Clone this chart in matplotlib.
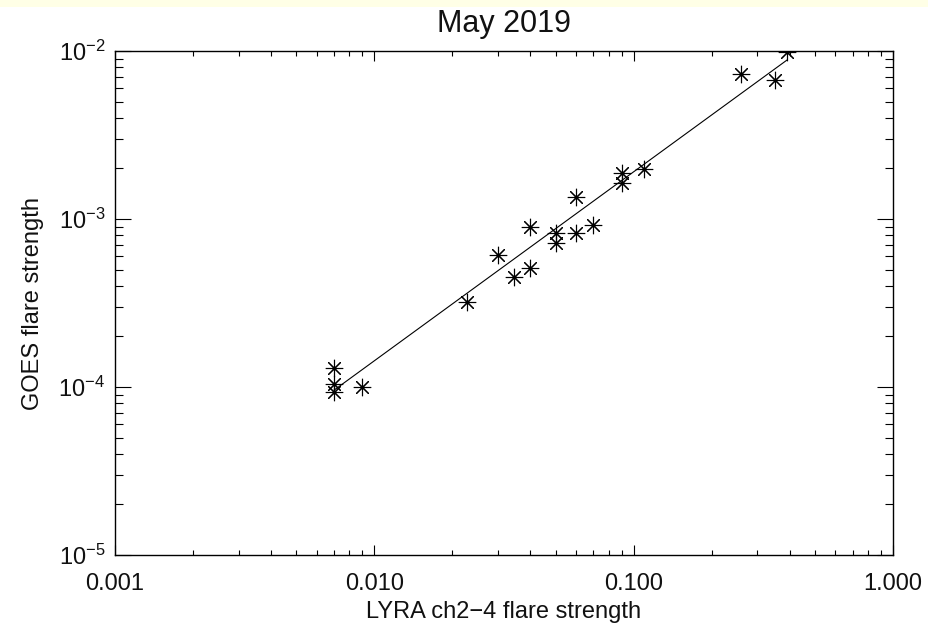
import numpy as np
import matplotlib
matplotlib.use("Agg")
import matplotlib.pyplot as plt
from matplotlib.patches import Rectangle

# ---- data ----
lyra = [0.007, 0.007, 0.007, 0.009, 0.0227, 0.030, 0.0347, 0.040, 0.040,
        0.050, 0.050, 0.060, 0.060, 0.070, 0.090, 0.090, 0.110, 0.26, 0.35, 0.39]
goes = [1.3e-4, 1.04e-4, 9.3e-5, 1.0e-4, 3.2e-4, 6.1e-4, 4.5e-4, 5.1e-4, 9.0e-4,
        8.2e-4, 7.2e-4, 8.2e-4, 1.35e-3, 9.2e-4, 1.87e-3, 1.64e-3, 1.98e-3,
        7.3e-3, 6.7e-3, 9.8e-3]
fit_slope = 1.125        # log10(goes) = fit_icpt + fit_slope*log10(lyra)
fit_icpt = -1.594
xticks = [0.001, 0.01, 0.1, 1.0]
xticklabels = ["0.001", "0.010", "0.100", "1.000"]
yticks = [1e-5, 1e-4, 1e-3, 1e-2]
yticklabels = [r"$10^{-5}$", r"$10^{-4}$", r"$10^{-3}$", r"$10^{-2}$"]
title = "May 2019"
xlabel = "LYRA ch2\u22124 flare strength"
ylabel = "GOES flare strength"

plt.rcParams['font.family'] = ['Liberation Sans', 'DejaVu Sans']
plt.rcParams['mathtext.fontset'] = 'custom'
plt.rcParams['mathtext.rm'] = 'Liberation Sans'
plt.rcParams['mathtext.default'] = 'regular'

W, H = 929, 627
fig = plt.figure(figsize=(W / 100, H / 100), dpi=100, facecolor='white')
fig.patches.append(Rectangle((0, 1 - 7 / H), 1, 7 / H, transform=fig.transFigure,
                             facecolor='#FFFFE6', edgecolor='none', zorder=-10))

left, right, top, bottom = 115, 893, 51, 555
ax = fig.add_axes([left / W, 1 - bottom / H, (right - left) / W, (bottom - top) / H])
ax.set_xscale('log')
ax.set_yscale('log')
ax.set_xlim(0.001, 1.0)
ax.set_ylim(1e-5, 1e-2)

ax.plot(lyra, goes, linestyle='none', marker=(8, 2, 0), markersize=12.5,
        markeredgewidth=0.8, color='black')

lx = np.log10(np.array(lyra))
fx = np.array([lx.min(), lx.max()])
ax.plot(10 ** fx, 10 ** (fit_icpt + fit_slope * fx), color='black', linewidth=0.8)

ax.set_xticks(xticks)
ax.set_xticklabels(xticklabels)
ax.set_yticks(yticks)
ax.set_yticklabels(yticklabels)

for sp in ax.spines.values():
    sp.set_linewidth(1.0)
ax.tick_params(axis='both', which='both', direction='in', top=True, right=True,
               color='black', width=0.8, labelcolor='#111111')
ax.tick_params(axis='x', which='major', length=7.2, pad=13, labelsize=17)
ax.tick_params(axis='x', which='minor', length=3.6)
ax.tick_params(axis='y', which='major', length=11.2, pad=7, labelsize=17)
ax.tick_params(axis='y', which='minor', length=5.8)

ax.set_title(title, fontsize=22, pad=14, color='#111111')
ax.set_xlabel(xlabel, fontsize=17, labelpad=4, color='#111111')
ax.set_ylabel(ylabel, fontsize=17, labelpad=10, color='#111111')

fig.savefig("out.png", dpi=100, facecolor=fig.get_facecolor())
